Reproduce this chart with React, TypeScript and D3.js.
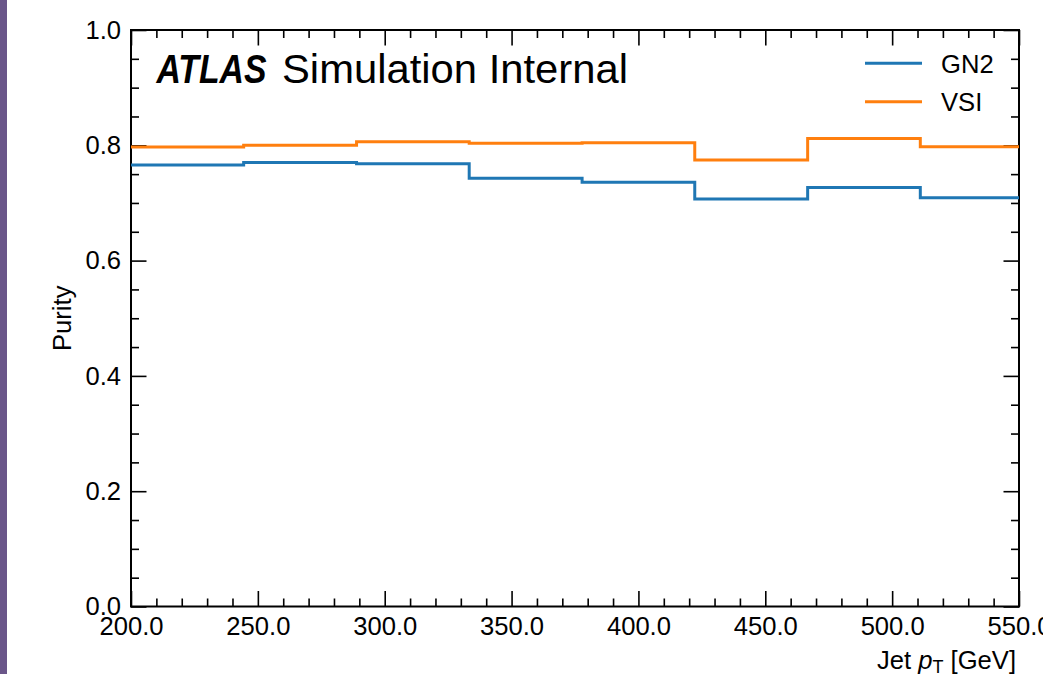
import React, { useEffect, useRef } from 'react';
import * as d3 from 'd3';

// bin edges in jet pT (GeV), last bin runs past the axis limit
const binEdges = [200, 244.4, 288.9, 333.3, 377.8, 422.2, 466.7, 511.1, 555.6];
const gn2Purity = [0.766, 0.770, 0.768, 0.743, 0.736, 0.707, 0.727, 0.709];
const vsiPurity = [0.797, 0.800, 0.806, 0.8035, 0.8045, 0.7745, 0.812, 0.7975];
const seriesNames = ['GN2', 'VSI'];
const seriesColors = ['#1f77b4', '#ff7f0e'];
const xMajorTicks = [200, 250, 300, 350, 400, 450, 500, 550];
const yMajorTicks = [0, 0.2, 0.4, 0.6, 0.8, 1.0];

const FONT = '"Liberation Sans", Arial, Helvetica, sans-serif';

export default function App() {
  const ref = useRef<SVGSVGElement>(null);

  useEffect(() => {
    const W = 1043, H = 674;
    const m = { left: 131, right: 1019, top: 30, bottom: 606.5 };
    const svg = d3.select(ref.current).attr('width', W).attr('height', H);
    svg.selectAll('*').remove();

    // purple strip on the left edge
    svg.append('rect').attr('x', 0).attr('y', 0).attr('width', 7).attr('height', H).attr('fill', '#6a5689');

    const x = d3.scaleLinear().domain([200, 550]).range([m.left, m.right]);
    const y = d3.scaleLinear().domain([0, 1]).range([m.bottom, m.top]);

    const xMinor = d3.range(200, 551, 10).filter((v) => v % 50 !== 0);
    const yMinor = d3.range(0, 21).map((i) => i * 0.05).filter((_, i) => i % 4 !== 0);

    const styleAxis = (g: any, withText: boolean) => {
      g.select('.domain').remove();
      g.selectAll('line').attr('stroke', '#000').attr('stroke-width', 1.6);
      if (withText) {
        g.selectAll('text').attr('font-family', FONT).attr('font-size', 25.6).attr('fill', '#000');
      } else {
        g.selectAll('text').remove();
      }
    };

    // bottom
    const gb = svg.append('g').attr('transform', `translate(0,${m.bottom})`);
    gb.call(d3.axisBottom(x).tickValues(xMajorTicks).tickSize(-15.5).tickPadding(10).tickFormat(d3.format('.1f')));
    styleAxis(gb, true);
    const gbm = svg.append('g').attr('transform', `translate(0,${m.bottom})`);
    gbm.call(d3.axisBottom(x).tickValues(xMinor).tickSize(-8));
    styleAxis(gbm, false);
    // top
    const gt = svg.append('g').attr('transform', `translate(0,${m.top})`);
    gt.call(d3.axisTop(x).tickValues(xMajorTicks).tickSize(-15.5));
    styleAxis(gt, false);
    const gtm = svg.append('g').attr('transform', `translate(0,${m.top})`);
    gtm.call(d3.axisTop(x).tickValues(xMinor).tickSize(-8));
    styleAxis(gtm, false);
    // left
    const gl = svg.append('g').attr('transform', `translate(${m.left},0)`);
    gl.call(d3.axisLeft(y).tickValues(yMajorTicks).tickSize(-15.5).tickPadding(10).tickFormat(d3.format('.1f')));
    styleAxis(gl, true);
    const glm = svg.append('g').attr('transform', `translate(${m.left},0)`);
    glm.call(d3.axisLeft(y).tickValues(yMinor).tickSize(-8));
    styleAxis(glm, false);
    // right
    const gr = svg.append('g').attr('transform', `translate(${m.right},0)`);
    gr.call(d3.axisRight(y).tickValues(yMajorTicks).tickSize(-15.5));
    styleAxis(gr, false);
    const grm = svg.append('g').attr('transform', `translate(${m.right},0)`);
    grm.call(d3.axisRight(y).tickValues(yMinor).tickSize(-8));
    styleAxis(grm, false);

    // frame
    svg.append('rect')
      .attr('x', m.left).attr('y', m.top)
      .attr('width', m.right - m.left).attr('height', m.bottom - m.top)
      .attr('fill', 'none').attr('stroke', '#000').attr('stroke-width', 2);

    svg.append('clipPath').attr('id', 'plotclip')
      .append('rect')
      .attr('x', m.left).attr('y', m.top)
      .attr('width', m.right - m.left).attr('height', m.bottom - m.top);

    const line = d3.line<[number, number]>()
      .x((d) => x(d[0]))
      .y((d) => y(d[1]))
      .curve(d3.curveStepAfter);

    [gn2Purity, vsiPurity].forEach((vals, i) => {
      const pts: [number, number][] = binEdges.map((e, j) => [e, vals[Math.min(j, vals.length - 1)]]);
      svg.append('path')
        .attr('d', line(pts))
        .attr('fill', 'none')
        .attr('stroke', seriesColors[i])
        .attr('stroke-width', 3)
        .attr('clip-path', 'url(#plotclip)');
    });

    // legend
    seriesNames.forEach((name, i) => {
      const ly = 63.3 + i * 38.4;
      svg.append('line')
        .attr('x1', 865).attr('x2', 922).attr('y1', ly).attr('y2', ly)
        .attr('stroke', seriesColors[i]).attr('stroke-width', 3);
      svg.append('text')
        .attr('x', 941).attr('y', ly + 9.3)
        .attr('font-family', FONT).attr('font-size', 25.6)
        .text(name);
    });

    // ATLAS label
    svg.append('text')
      .attr('x', 156.5).attr('y', 82.7)
      .attr('font-family', FONT).attr('font-size', 40)
      .attr('font-weight', 'bold').attr('font-style', 'italic')
      .attr('textLength', 110).attr('lengthAdjust', 'spacingAndGlyphs')
      .text('ATLAS');
    svg.append('text')
      .attr('x', 282).attr('y', 82.7)
      .attr('font-family', FONT).attr('font-size', 41)
      .attr('textLength', 346).attr('lengthAdjust', 'spacingAndGlyphs')
      .text('Simulation Internal');

    // axis titles
    svg.append('text')
      .attr('transform', `translate(71,${(m.top + m.bottom) / 2}) rotate(-90)`)
      .attr('text-anchor', 'middle')
      .attr('font-family', FONT).attr('font-size', 25.6)
      .text('Purity');

    const xt = svg.append('text')
      .attr('x', m.right - 3).attr('y', 669)
      .attr('text-anchor', 'end')
      .attr('font-family', FONT).attr('font-size', 25.6);
    xt.append('tspan').text('Jet ');
    xt.append('tspan').attr('font-style', 'italic').text('p');
    xt.append('tspan').attr('font-size', 18).attr('dy', 4).text('T');
    xt.append('tspan').attr('dy', -4).text(' [GeV]');
  }, []);

  return (
    <svg ref={ref} style={{ position: 'absolute', left: 0, top: 0, background: '#fff' }} />
  );
}
